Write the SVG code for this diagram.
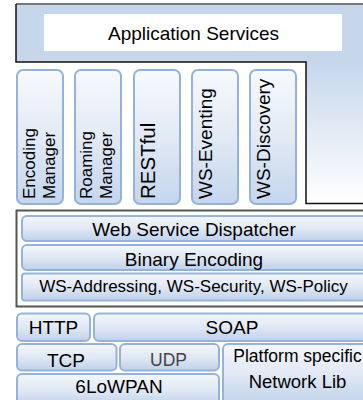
<svg xmlns="http://www.w3.org/2000/svg" width="363" height="400" viewBox="0 0 363 400">
<defs>
<linearGradient id="bar" x1="0" y1="0" x2="0" y2="1">
<stop offset="0" stop-color="#f4f7fc"/>
<stop offset="0.5" stop-color="#e0e8f4"/>
<stop offset="1" stop-color="#bfd1ea"/>
</linearGradient>
<linearGradient id="vbox" x1="0" y1="0" x2="0" y2="1">
<stop offset="0" stop-color="#f7f9fd"/>
<stop offset="0.5" stop-color="#e2eaf5"/>
<stop offset="1" stop-color="#c4d5ec"/>
</linearGradient>
<linearGradient id="panel" x1="0" y1="62" x2="0" y2="204" gradientUnits="userSpaceOnUse">
<stop offset="0" stop-color="#c6d7ec"/>
<stop offset="1" stop-color="#ffffff"/>
</linearGradient>
</defs>
<style>
.t{font-family:"Liberation Sans",Arial,sans-serif;fill:#000;text-anchor:middle}
.v{font-family:"Liberation Sans",Arial,sans-serif;fill:#000;text-anchor:start}
.b{fill:url(#bar);stroke:#95b3da;stroke-width:2}
.vb{fill:url(#vbox);stroke:#95b3da;stroke-width:2}
</style>
<rect width="363" height="400" fill="#ffffff"/>

<g id="application-services">
<rect x="16" y="4" width="350" height="58" fill="#c6d7ec"/>
<rect x="306" y="62" width="60" height="142" fill="url(#panel)"/>
<path d="M16,4 H366" fill="none" stroke="#777" stroke-width="2"/>
<path d="M16,4 V62 H306 V203.5 H366" fill="none" stroke="#111" stroke-width="1.5"/>
<rect x="44" y="14" width="298" height="37" fill="#ffffff"/>
<text class="t" x="193.5" y="40" font-size="19">Application Services</text>
</g>

<g id="encoding-manager">
<rect class="vb" x="17" y="70" width="46" height="134" rx="6"/>
<text class="v" font-size="17" transform="translate(35,199) rotate(-90)">Encoding</text>
<text class="v" font-size="17" transform="translate(55,199) rotate(-90)">Manager</text>
</g>
<g id="roaming-manager">
<rect class="vb" x="75" y="70" width="46" height="134" rx="6"/>
<text class="v" font-size="17" transform="translate(92,199) rotate(-90)">Roaming</text>
<text class="v" font-size="17" transform="translate(112,199) rotate(-90)">Manager</text>
</g>
<g id="restful">
<rect class="vb" x="134" y="70" width="46" height="134" rx="6"/>
<text class="v" font-size="20.5" transform="translate(155,199) rotate(-90)">RESTful</text>
</g>
<g id="ws-eventing">
<rect class="vb" x="192" y="70" width="46" height="134" rx="6"/>
<text class="v" font-size="19" transform="translate(211.5,199) rotate(-90)">WS-Eventing</text>
</g>
<g id="ws-discovery">
<rect class="vb" x="250" y="70" width="46" height="134" rx="6"/>
<text class="v" font-size="19" transform="translate(269.5,199) rotate(-90)">WS-Discovery</text>
</g>

<g id="middleware">
<rect x="16.5" y="210.5" width="360" height="96" fill="#ffffff" stroke="#555" stroke-width="2"/>
</g>
<g id="web-service-dispatcher">
<rect class="b" x="22" y="216" width="360" height="25" rx="5"/>
<text class="t" x="194" y="236" font-size="19">Web Service Dispatcher</text>
</g>
<g id="binary-encoding">
<rect class="b" x="22" y="245" width="360" height="25" rx="5"/>
<text class="t" x="194" y="265.5" font-size="19">Binary Encoding</text>
</g>
<g id="ws-stack">
<rect class="b" x="22" y="273.5" width="360" height="27" rx="3"/>
<text class="t" x="193.5" y="291.5" font-size="17">WS-Addressing, WS-Security, WS-Policy</text>
</g>

<g id="http">
<rect class="b" x="17" y="313.5" width="73" height="27.5" rx="5"/>
<text class="t" x="53.5" y="334" font-size="19">HTTP</text>
</g>
<g id="soap">
<rect class="b" x="94" y="313.5" width="280" height="27.5" rx="5"/>
<text class="t" x="232" y="334" font-size="19">SOAP</text>
</g>
<g id="tcp">
<rect class="b" x="17" y="344" width="99.5" height="26.5" rx="5"/>
<text class="t" x="66" y="366.5" font-size="19">TCP</text>
</g>
<g id="udp">
<rect class="b" x="120" y="344" width="99" height="26.5" rx="5"/>
<text class="t" x="168.5" y="366" font-size="17.5" style="fill:#444">UDP</text>
</g>
<g id="6lowpan">
<rect class="b" x="17" y="374" width="202" height="32" rx="5"/>
<text class="t" x="119" y="393" font-size="19">6LoWPAN</text>
</g>
<g id="platform-network-lib">
<rect class="b" x="223" y="344" width="150" height="62" rx="5"/>
<text class="t" x="297.5" y="362" font-size="17.5">Platform specific</text>
<text class="t" x="297.5" y="388" font-size="18.5">Network Lib</text>
</g>
<g id="connectors"/>
</svg>
